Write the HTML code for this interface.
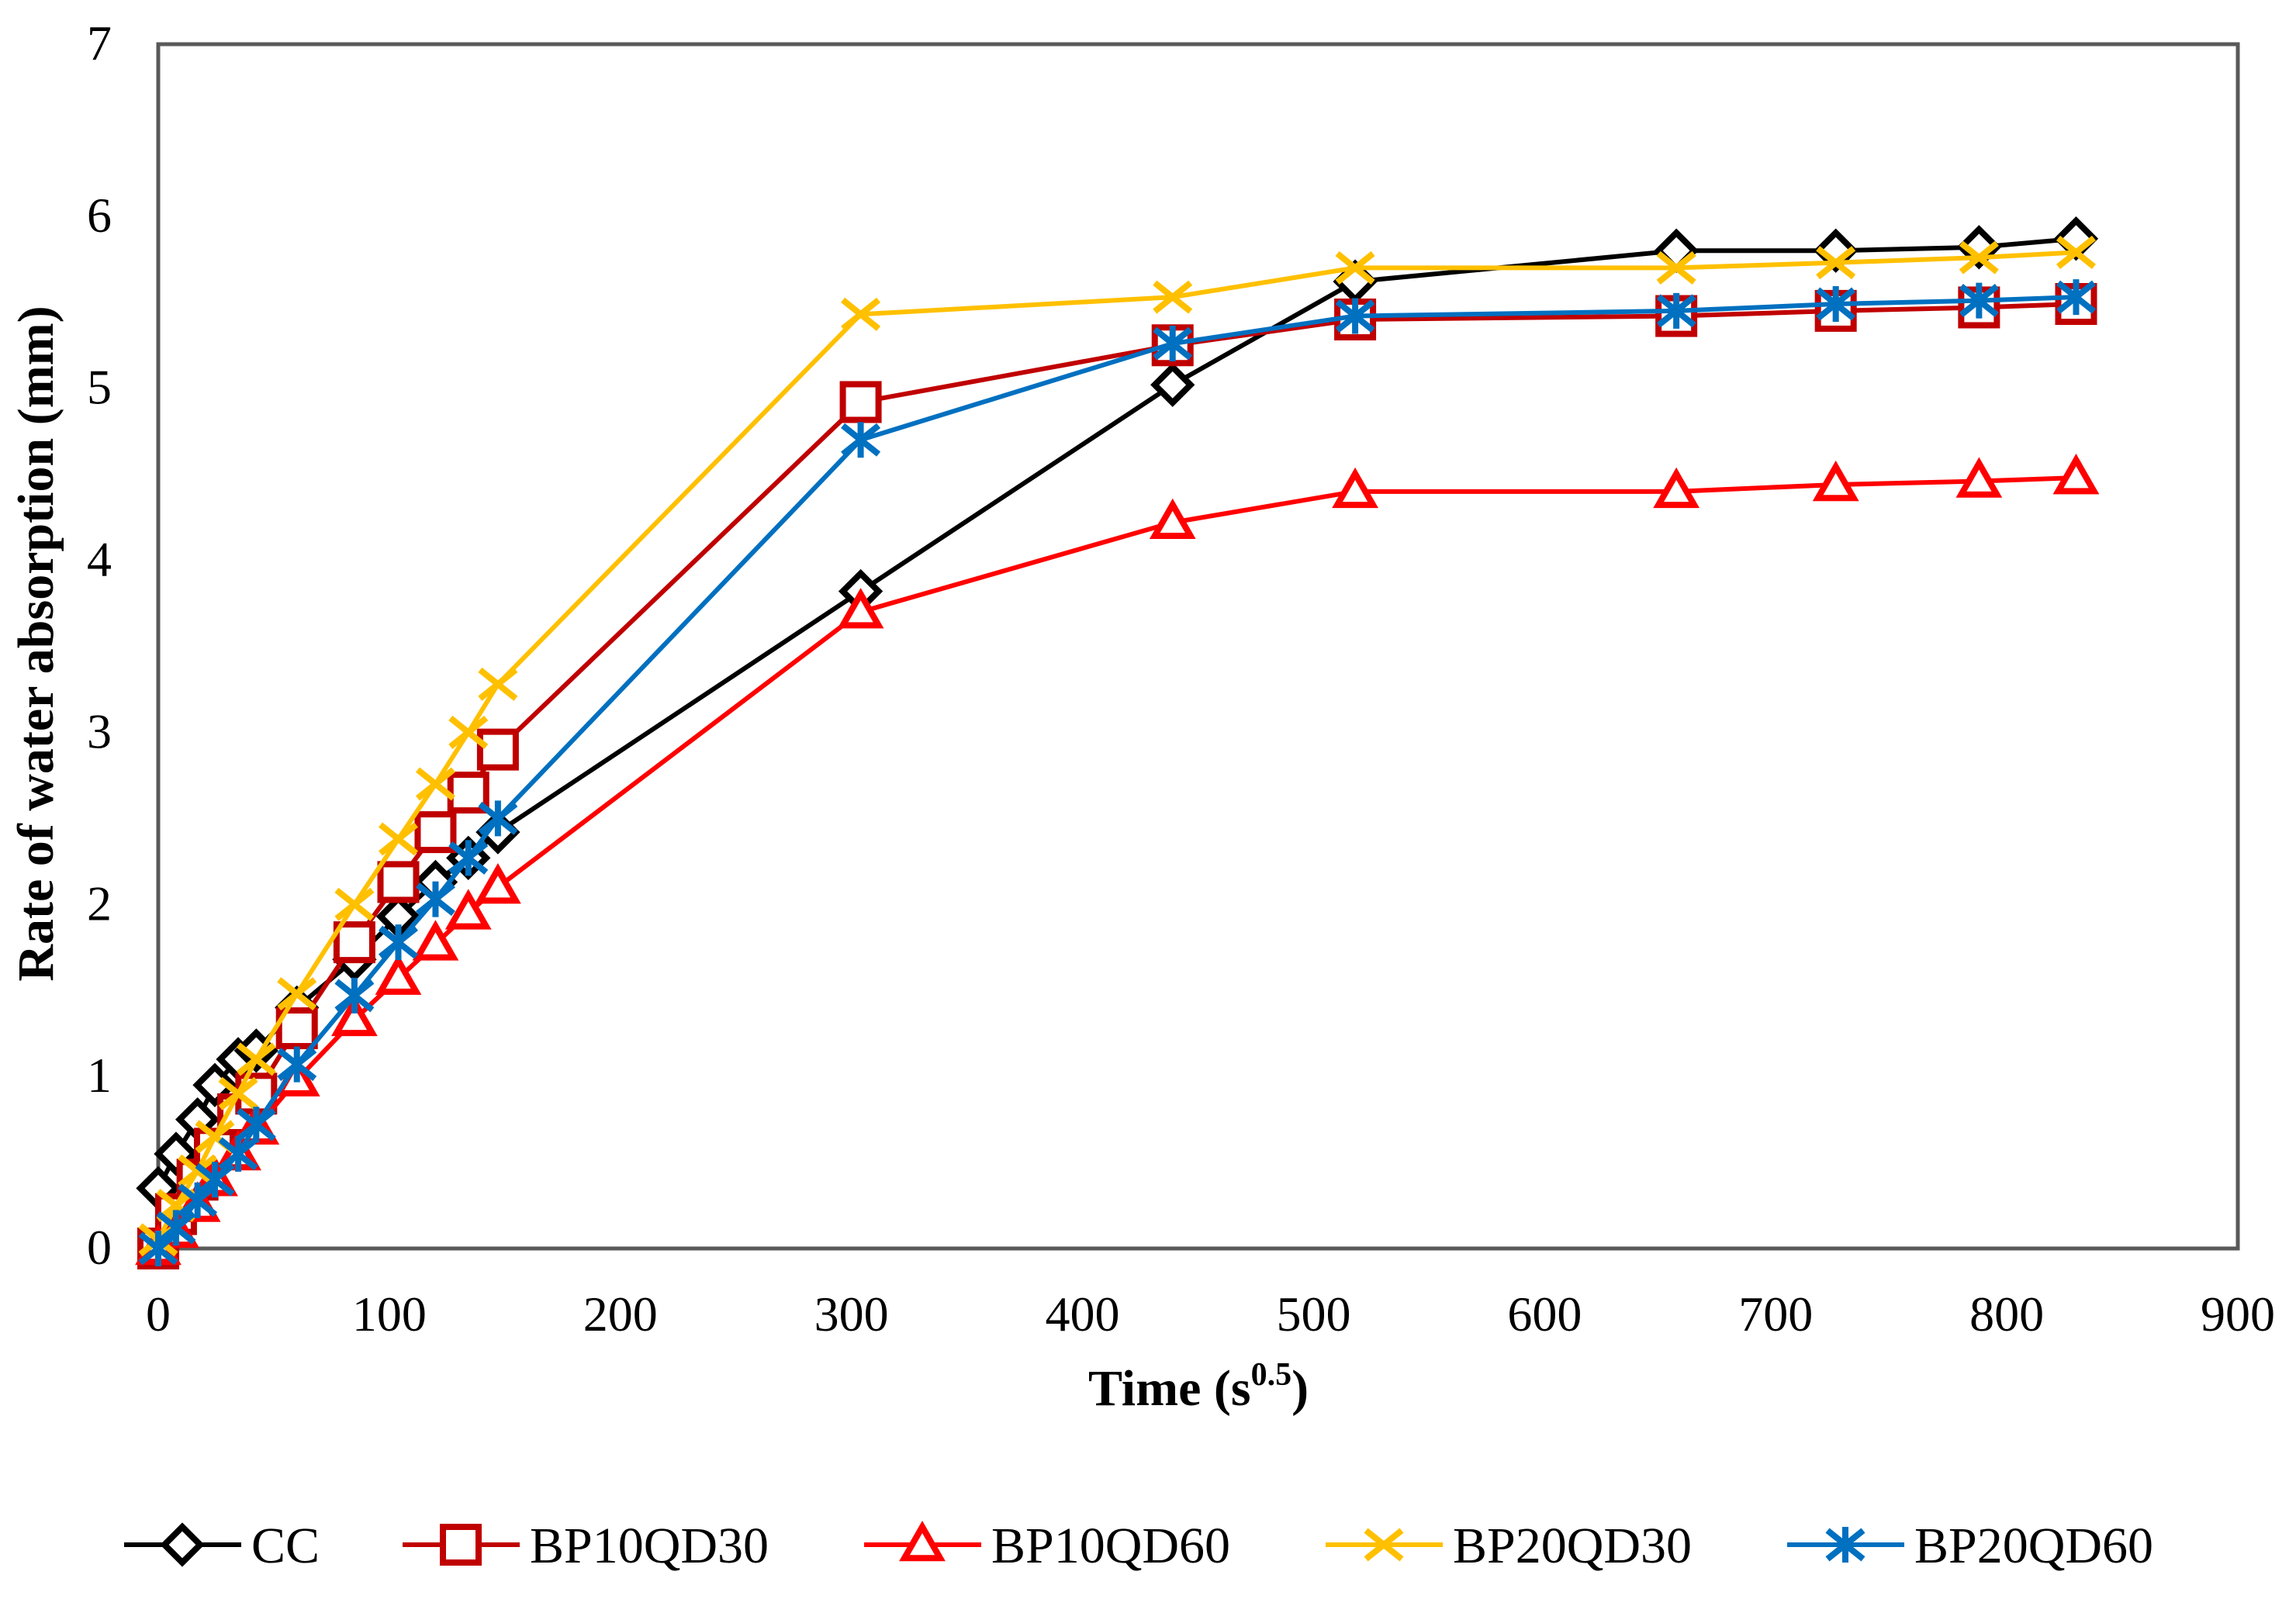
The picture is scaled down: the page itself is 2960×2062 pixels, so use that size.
<!DOCTYPE html>
<html><head><meta charset="utf-8"><style>
html,body{margin:0;padding:0;background:#fff;}
svg{display:block;font-family:"Liberation Serif",serif;}
</style></head><body>
<svg id="chart" width="2960" height="2062" viewBox="0 0 2960 2062" xmlns="http://www.w3.org/2000/svg">
<rect x="0" y="0" width="2960" height="2062" fill="#fff"/>
<rect x="204" y="57" width="2681" height="1553" fill="none" stroke="#595959" stroke-width="5"/>
<g id="axes"></g>
<g id="series"></g>
<text x="1545" y="1812" text-anchor="middle" font-size="66" font-weight="bold">Time (s<tspan font-size="42" dy="-26">0.5</tspan><tspan dy="26">)</tspan></text>
<text transform="translate(68,830) rotate(-90)" text-anchor="middle" font-size="66" font-weight="bold">Rate of water absorption (mm)</text>
<g id="legend"></g>
</svg>
<script>
const timeValues = [0,7.7,17,24.5,34.6,42.4,60,84.9,103.9,120,134.2,147,304,439,518,657,726,788,830];
const ccValues = [0.35,0.55,0.75,0.95,1.1,1.15,1.4,1.68,1.93,2.13,2.27,2.42,3.82,5.02,5.62,5.8,5.8,5.82,5.87];
const bp10qd30Values = [0,0.2,0.4,0.58,0.78,0.9,1.28,1.78,2.13,2.42,2.65,2.9,4.92,5.25,5.4,5.42,5.45,5.47,5.49];
const bp10qd60Values = [0,0.1,0.25,0.4,0.55,0.7,0.98,1.33,1.57,1.77,1.95,2.1,3.7,4.22,4.4,4.4,4.44,4.46,4.48];
const bp20qd30Values = [0.05,0.25,0.45,0.65,0.9,1.1,1.48,2.0,2.38,2.7,3.0,3.28,5.43,5.53,5.7,5.7,5.73,5.76,5.79];
const bp20qd60Values = [0,0.12,0.28,0.4,0.55,0.72,1.07,1.47,1.78,2.03,2.27,2.5,4.7,5.26,5.42,5.45,5.49,5.51,5.53];
const xTicks = [0,100,200,300,400,500,600,700,800,900];
const yTicks = [0,1,2,3,4,5,6,7];
const seriesNames = ["CC","BP10QD30","BP10QD60","BP20QD30","BP20QD60"];

const NS="http://www.w3.org/2000/svg";
const X0=204,X1=2885,Y0=1610,Y1=57;
const xs=v=>X0+(X1-X0)*v/900;
const ys=v=>Y0-(Y0-Y1)*v/7;
function mk(tag,attrs,parent){const e=document.createElementNS(NS,tag);for(const k in attrs)e.setAttribute(k,attrs[k]);parent.appendChild(e);return e;}

const axes=document.getElementById('axes');
xTicks.forEach(t=>{
  const el=mk('text',{x:xs(t),y:1716,'text-anchor':'middle','font-size':'64'},axes);
  el.textContent=t;
  
  
});
yTicks.forEach(t=>{
  const el=mk('text',{x:144,y:ys(t)+20,'text-anchor':'end','font-size':'64'},axes);
  el.textContent=t;
  
  
});

const styles=[
 {color:'#000000',marker:'diamond',data:ccValues},
 {color:'#C00000',marker:'square',data:bp10qd30Values},
 {color:'#FF0000',marker:'triangle',data:bp10qd60Values},
 {color:'#FFC000',marker:'x',data:bp20qd30Values},
 {color:'#0070C0',marker:'star',data:bp20qd60Values}
];
function marker(type,cx,cy,color,parent){
  const s=23,sw=8;let el;
  if(type==='diamond'){el=mk('polygon',{points:`${cx},${cy-s} ${cx+s},${cy} ${cx},${cy+s} ${cx-s},${cy}`,fill:'#fff',stroke:color,'stroke-width':sw},parent);}
  else if(type==='square'){el=mk('rect',{x:cx-s,y:cy-s,width:2*s,height:2*s,fill:'#fff',stroke:color,'stroke-width':sw},parent);}
  else if(type==='triangle'){el=mk('polygon',{points:`${cx},${cy-s} ${cx+s},${cy+s*0.75} ${cx-s},${cy+s*0.75}`,fill:'#fff',stroke:color,'stroke-width':sw},parent);}
  else if(type==='x'){el=mk('path',{d:`M${cx-s},${cy-s*0.8}L${cx+s},${cy+s*0.8}M${cx-s},${cy+s*0.8}L${cx+s},${cy-s*0.8}`,stroke:color,'stroke-width':sw,fill:'none'},parent);}
  else {el=mk('path',{d:`M${cx-s},${cy-s*0.8}L${cx+s},${cy+s*0.8}M${cx-s},${cy+s*0.8}L${cx+s},${cy-s*0.8}M${cx},${cy-s}L${cx},${cy+s}`,stroke:color,'stroke-width':sw,fill:'none'},parent);}
  return el;
}
const sg=document.getElementById('series');
styles.forEach((st,i)=>{
  const g=mk('g',{},sg);
  
  
  const pts=st.data.map((v,j)=>xs(timeValues[j])+','+ys(v)).join(' ');
  const pl=mk('polyline',{points:pts,fill:'none',stroke:st.color,'stroke-width':6},g);
  
  
  st.data.forEach((v,j)=>{
    const m=marker(st.marker,xs(timeValues[j]),ys(v),st.color,g);
    
    
  });
});
const lg=document.getElementById('legend');
const lx=[160,519,1114,1709,2304];
styles.forEach((st,i)=>{
  const g=mk('g',{},lg);
  
  
  const ly=1992;
  mk('line',{x1:lx[i],y1:ly,x2:lx[i]+151,y2:ly,stroke:st.color,'stroke-width':6},g);
  marker(st.marker,lx[i]+75,ly,st.color,g);
  const t=mk('text',{x:lx[i]+164,y:ly+23,'font-size':'66'},g);
  t.textContent=seriesNames[i];
});
</script>
</body></html>
